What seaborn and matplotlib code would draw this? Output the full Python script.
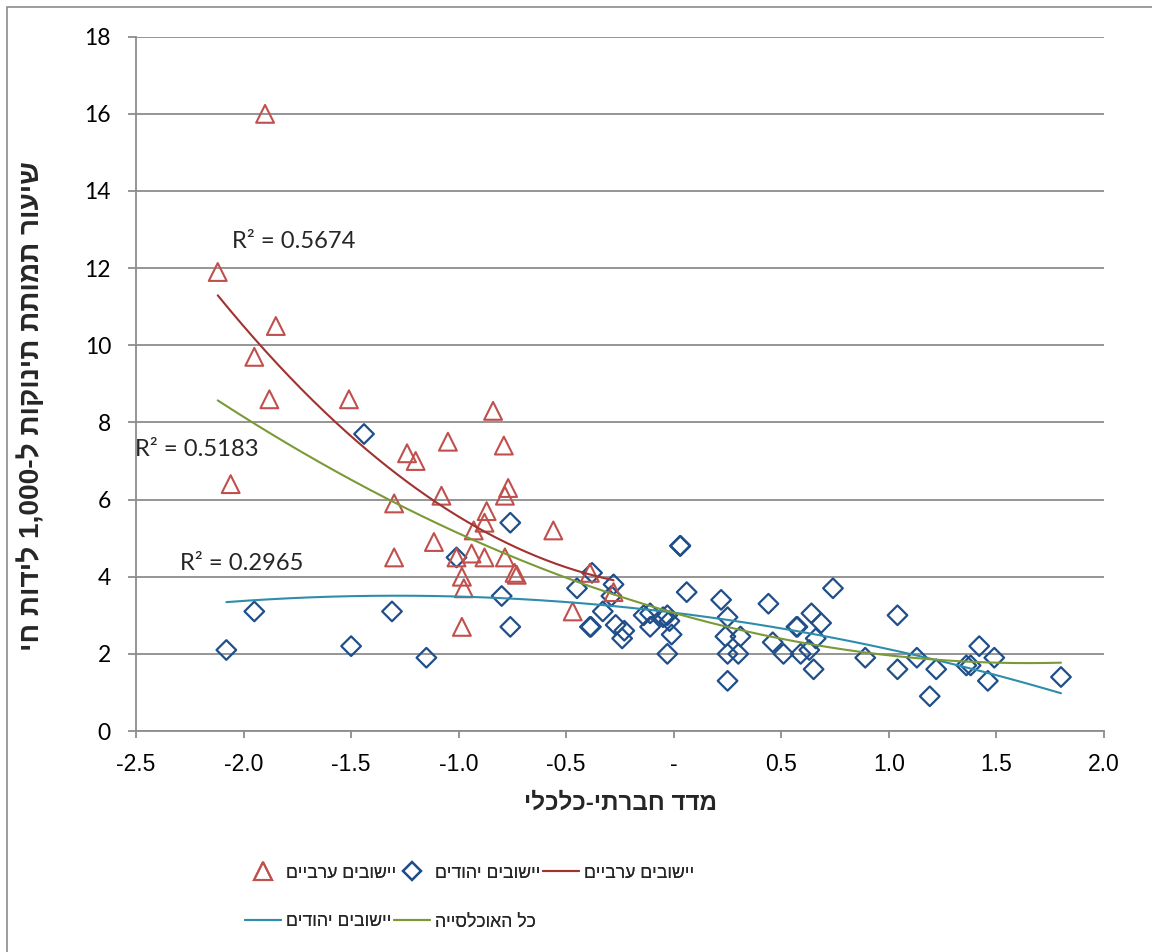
import re
import numpy as np
import pandas as pd
import matplotlib
matplotlib.use("Agg")
import matplotlib.pyplot as plt
import seaborn as sns
from matplotlib.lines import Line2D
from matplotlib.patches import Rectangle

# ---------------- data ----------------
arab_x = [-1.90, -2.12, -1.85, -1.95, -1.88, -1.51, -2.06, -1.24, -1.20, -1.05,
          -0.84, -0.79, -0.77, -0.785, -1.08, -1.30, -0.87, -0.88, -0.93, -0.56,
          -1.115, -1.30, -1.01, -0.94, -0.88, -0.785, -0.74, -0.73, -0.985, -0.976,
          -0.985, -0.47, -0.39, -0.28]
arab_y = [16.0, 11.9, 10.5, 9.7, 8.6, 8.6, 6.4, 7.2, 7.0, 7.5,
          8.3, 7.4, 6.3, 6.1, 6.1, 5.9, 5.7, 5.4, 5.2, 5.2,
          4.9, 4.5, 4.5, 4.6, 4.5, 4.5, 4.1, 4.05, 4.0, 3.7,
          2.7, 3.1, 4.1, 3.6]

jew_x = [-1.44, -0.76, -1.01, -0.80, -1.31, -0.76, -1.50, -1.15, -2.08, -1.95,
         -0.38, -0.45, -0.28, -0.29, -0.33, -0.39, -0.385, -0.27, -0.23, -0.24,
         -0.14, -0.11, -0.11, -0.05, -0.03, -0.02, -0.01, -0.03, 0.03, 0.03,
         0.03, 0.06, 0.22, 0.25, 0.24, 0.31, 0.25, 0.30, 0.25, 0.44,
         0.46, 0.51, 0.57, 0.575, 0.64, 0.685, 0.66, 0.63, 0.59, 0.65,
         0.74, 1.04, 0.89, 1.04, 1.13, 1.19, 1.22, 1.36, 1.38, 1.42,
         1.49, 1.46, 1.80]
jew_y = [7.7, 5.4, 4.5, 3.5, 3.1, 2.7, 2.2, 1.9, 2.1, 3.1,
         4.1, 3.7, 3.8, 3.5, 3.1, 2.7, 2.7, 2.75, 2.6, 2.4,
         3.0, 3.05, 2.7, 2.95, 3.0, 2.85, 2.5, 2.0, 4.8, 4.8,
         4.8, 3.6, 3.4, 2.95, 2.45, 2.45, 2.0, 2.0, 1.3, 3.3,
         2.3, 2.0, 2.7, 2.7, 3.05, 2.8, 2.4, 2.1, 2.0, 1.6,
         3.7, 3.0, 1.9, 1.6, 1.9, 0.9, 1.6, 1.7, 1.7, 2.2,
         1.9, 1.3, 1.4]

x_ticks = [-2.5, -2.0, -1.5, -1.0, -0.5, 0.0, 0.5, 1.0, 1.5, 2.0]
x_tick_labels = ["-2.5", "-2.0", "-1.5", "-1.0", "-0.5", "-", "0.5", "1.0", "1.5", "2.0"]
y_ticks = [0, 2, 4, 6, 8, 10, 12, 14, 16, 18]
y_tick_labels = ["0", "2", "4", "6", "8", "10", "12", "14", "16", "18"]

label_arab = "יישובים ערביים"
label_jew = "יישובים יהודים"
label_all = "כל האוכלסייה"
x_title = "מדד חברתי-כלכלי"
y_title = "שיעור תמותת תינוקות ל-1,000 לידות חי"
r2_arab = "R² = 0.5674"
r2_all = "R² = 0.5183"
r2_jew = "R² = 0.2965"


def vis(s):
    """Logical (RTL) Hebrew string -> visual left-to-right order for matplotlib."""
    parts = re.findall(r"[0-9][0-9,.]*[0-9]|.", s)
    return "".join(reversed(parts))


HEB = ["Liberation Sans", "DejaVu Sans"]
NUM = ["Lato", "DejaVu Sans"]

RED_MK = "#C0504D"
BLUE_MK = "#1F4E8A"
RED_LN = "#A0322F"
TEAL_LN = "#2E8DAA"
GREEN_LN = "#7A9A37"
GRID = "#8C8C8C"

sns.set_theme(style="white")
plt.rcParams["font.family"] = HEB

df_arab = pd.DataFrame({"x": arab_x, "y": arab_y})
df_jew = pd.DataFrame({"x": jew_x, "y": jew_y})
df_all = pd.concat([df_arab, df_jew], ignore_index=True)

W, H = 1152, 952
fig = plt.figure(figsize=(W / 100, H / 100), dpi=100)
fig.patch.set_facecolor("white")
renderer = fig.canvas.get_renderer()


def fit_size(text, family, target_px, weight="normal"):
    """Font size (pt) whose rendered width is target_px."""
    t = fig.text(0, 0, text, fontsize=10, family=family, fontweight=weight)
    w = t.get_window_extent(renderer).width
    t.remove()
    return 10.0 * target_px / w


ax = fig.add_axes([136 / W, 1 - 731 / H, (1104 - 136) / W, (731 - 36.7) / H])

ax.set_xlim(-2.5, 2.0)
ax.set_ylim(0, 18)
ax.set_yticks(y_ticks)
ax.set_xticks(x_ticks)
ax.yaxis.grid(True, color=GRID, linewidth=1.3)
ax.xaxis.grid(False)
ax.set_axisbelow(True)

# scatter
sns.scatterplot(data=df_jew, x="x", y="y", ax=ax, marker="D", s=100,
                facecolor="none", edgecolor=BLUE_MK, linewidth=1.6, zorder=3, legend=False)
sns.scatterplot(data=df_arab, x="x", y="y", ax=ax, marker="^", s=165,
                facecolor="none", edgecolor=RED_MK, linewidth=1.5, zorder=3, legend=False)


def trend(df):
    c = np.polyfit(df["x"], df["y"], 2)
    xs = np.linspace(df["x"].min(), df["x"].max(), 200)
    return xs, np.polyval(c, xs)


for d, col in [(df_arab, RED_LN), (df_jew, TEAL_LN), (df_all, GREEN_LN)]:
    xs, ys = trend(d)
    sns.lineplot(x=xs, y=ys, ax=ax, color=col, linewidth=1.5, zorder=4, legend=False)

# R² labels
r2_size = fit_size(r2_arab, NUM, 123)
ax.text(-2.055, 12.7, r2_arab, fontsize=r2_size, family=NUM, va="center", ha="left")
ax.text(-2.505, 7.31, r2_all, fontsize=r2_size, family=NUM, va="center", ha="left", clip_on=False)
ax.text(-2.295, 4.33, r2_jew, fontsize=r2_size, family=NUM, va="center", ha="left")

# axes styling
for side in ["top", "right"]:
    ax.spines[side].set_visible(False)
for side in ["left", "bottom"]:
    ax.spines[side].set_color(GRID)
    ax.spines[side].set_linewidth(1.3)

ax.set_xticklabels(x_tick_labels, family=HEB, fontsize=16.5)
ax.set_yticklabels(y_tick_labels, family=NUM, fontsize=16.5)
ax.tick_params(axis="y", which="major", left=True, length=6, width=1.3, color=GRID,
               pad=12, labelcolor="black")
ax.tick_params(axis="x", which="major", bottom=True, length=5, width=1.3, color=GRID,
               pad=11, labelcolor="black")
ax.set_xlabel("")
ax.set_ylabel("")

# axis titles
xt_size = fit_size(vis(x_title), HEB, 192, "bold")
yt_size = fit_size(vis(y_title), HEB, 487, "bold")
fig.text(621 / W, 1 - 803 / H, vis(x_title), ha="center", va="center",
         fontsize=xt_size, fontweight="bold", family=HEB)
fig.text(31 / W, 1 - 406 / H, vis(y_title), ha="center", va="center", rotation=90,
         fontsize=yt_size, fontweight="bold", family=HEB)

# legend (laid out as in the RTL original: two rows, three fixed-width columns)
leg_size = fit_size(vis(label_jew), HEB, 104)
h_tri = Line2D([], [], linestyle="none", marker="^", markersize=12.5,
               markerfacecolor="none", markeredgecolor=RED_MK, markeredgewidth=1.5)
h_dia = Line2D([], [], linestyle="none", marker="D", markersize=9,
               markerfacecolor="none", markeredgecolor=BLUE_MK, markeredgewidth=1.6)
h_red = Line2D([], [], color=RED_LN, linewidth=1.5)
h_teal = Line2D([], [], color=TEAL_LN, linewidth=1.5)
h_green = Line2D([], [], color=GREEN_LN, linewidth=1.5)

handle_px = 36.0
pad_px = 5.0
fs_px = leg_size * 100 / 72
legend_entries = [
    (h_tri, label_arab, 245, 873),
    (h_dia, label_jew, 394, 873),
    (h_red, label_arab, 543, 873),
    (h_teal, label_jew, 245, 922),
    (h_green, label_all, 394, 922),
]
for h, lab, px, py in legend_entries:
    lg = fig.legend([h], [vis(lab)], loc="center left", bbox_to_anchor=(px / W, 1 - py / H),
                    frameon=False, prop={"family": HEB, "size": leg_size},
                    handlelength=handle_px / fs_px, handletextpad=pad_px / fs_px,
                    borderpad=0, borderaxespad=0)
    fig.add_artist(lg)

# chart border
fig.add_artist(Rectangle((7 / W, -0.05), 1.1, 1 - 7 / H + 0.05, transform=fig.transFigure,
                         fill=False, edgecolor="#8C8C8C", linewidth=1.2))

fig.savefig("out.png", dpi=100, facecolor="white")
